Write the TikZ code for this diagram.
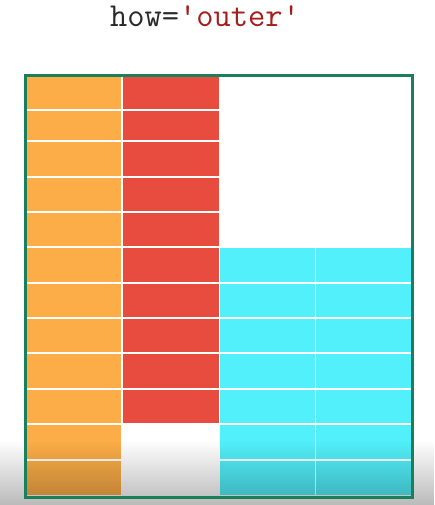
\documentclass[tikz,border=0pt]{standalone}
\usepackage{fontspec}
\usetikzlibrary{fadings}
\definecolor{cOrange}{HTML}{FCAD47}
\definecolor{cRed}{HTML}{E84C3E}
\definecolor{cCyan}{HTML}{52F0FA}
\definecolor{cFrame}{HTML}{1B7F5C}
\definecolor{cStr}{HTML}{A31F1A}
\definecolor{cTxt}{HTML}{2A2A2A}
\tikzset{
  cell/.style={draw=white, line width=1.3pt},
}
\begin{document}
\begin{tikzpicture}[x=1pt,y=-1pt]
\useasboundingbox (0,0) rectangle (434,505);
\fill[white] (0,0) rectangle (434,505);
\node[anchor=base, inner sep=0pt, font=\ttfamily\fontsize{33.5}{34}\selectfont] (title) at (205,27)
  {\textcolor{cTxt}{how=}\textcolor{cStr}{\textquotesingle outer\textquotesingle}};
% orange column: 12 rows
\foreach \a/\b in {76/110,110/141,141/177,177/212,212/247,247/283,283/318,318/353,353/389,389/424,424/460,460/496}
  \filldraw[cell, fill=cOrange] (26,\a) rectangle (122,\b);
% red column: 10 rows
\foreach \a/\b in {76/110,110/141,141/177,177/212,212/247,247/283,283/318,318/353,353/389,389/424}
  \filldraw[cell, fill=cRed] (122,\a) rectangle (219.5,\b);
% cyan columns: rows 6..12
\foreach \a/\b in {247/283,283/318,318/353,353/389,389/424,424/460,460/496}{
  \filldraw[cell, fill=cCyan] (219.5,\a) rectangle (315.5,\b);
  \filldraw[cell, fill=cCyan] (315.5,\a) rectangle (412,\b);
}
% bottom fade
\fill[black, opacity=0.27, path fading=north] (0,440) rectangle (434,505);
% frame
\node[draw=cFrame, line width=3pt, inner sep=0pt, minimum width=387pt, minimum height=421pt] (frame) at (219,286.5) {};
\end{tikzpicture}
\end{document}
